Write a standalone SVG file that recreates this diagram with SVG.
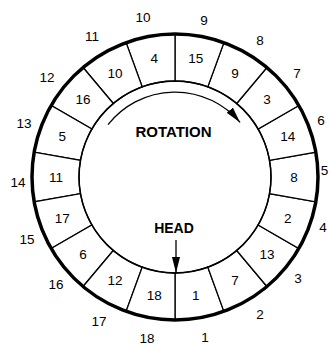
<svg xmlns="http://www.w3.org/2000/svg" width="330" height="345" viewBox="0 0 330 345">
<defs>
<style>
.sec{fill:#fff;stroke:#000;stroke-width:1.3}
.lbl{font-family:"Liberation Sans",Arial,sans-serif;font-size:13.5px;text-anchor:middle;fill:#000}
.pos{font-family:"Liberation Sans",Arial,sans-serif;font-size:13.5px;text-anchor:middle;fill:#000}
.word{font-family:"Liberation Sans",Arial,sans-serif;font-weight:bold;text-anchor:middle;fill:#000}
.conn{fill:none;stroke:#000;stroke-width:1.3}
</style>
<marker id="ah" markerUnits="userSpaceOnUse" markerWidth="17" markerHeight="10" refX="16" refY="4" orient="auto">
<path d="M0,0 L16,4 L0,8 z" fill="#000"/>
</marker>
</defs>
<rect width="330" height="345" fill="#fff"/>
<g id="seg1"><path class="sec" d="M223.91,311.38 A143,143 0 0 1 175,320 L175,273 A96,96 0 0 0 207.83,267.21 Z"/><text class="lbl" x="195.8" y="299.7">1</text></g>
<g id="seg7"><path class="sec" d="M266.92,286.54 A143,143 0 0 1 223.91,311.38 L207.83,267.21 A96,96 0 0 0 236.71,250.54 Z"/><text class="lbl" x="235" y="285.4">7</text></g>
<g id="seg13"><path class="sec" d="M298.84,248.5 A143,143 0 0 1 266.92,286.54 L236.71,250.54 A96,96 0 0 0 258.14,225 Z"/><text class="lbl" x="266.9" y="258.6">13</text></g>
<g id="seg2"><path class="sec" d="M315.83,201.82 A143,143 0 0 1 298.84,248.5 L258.14,225 A96,96 0 0 0 269.54,193.67 Z"/><text class="lbl" x="287.8" y="222.5">2</text></g>
<g id="seg8"><path class="sec" d="M315.83,152.18 A143,143 0 0 1 315.83,201.82 L269.54,193.67 A96,96 0 0 0 269.54,160.33 Z"/><text class="lbl" x="294" y="181.5">8</text></g>
<g id="seg14"><path class="sec" d="M298.84,105.5 A143,143 0 0 1 315.83,152.18 L269.54,160.33 A96,96 0 0 0 258.14,129 Z"/><text class="lbl" x="287.8" y="140.5">14</text></g>
<g id="seg3"><path class="sec" d="M266.92,67.46 A143,143 0 0 1 298.84,105.5 L258.14,129 A96,96 0 0 0 236.71,103.46 Z"/><text class="lbl" x="266.9" y="104.4">3</text></g>
<g id="seg9"><path class="sec" d="M223.91,42.62 A143,143 0 0 1 266.92,67.46 L236.71,103.46 A96,96 0 0 0 207.83,86.79 Z"/><text class="lbl" x="235" y="77.6">9</text></g>
<g id="seg15"><path class="sec" d="M175,34 A143,143 0 0 1 223.91,42.62 L207.83,86.79 A96,96 0 0 0 175,81 Z"/><text class="lbl" x="195.8" y="63.3">15</text></g>
<g id="seg4"><path class="sec" d="M126.09,42.62 A143,143 0 0 1 175,34 L175,81 A96,96 0 0 0 142.17,86.79 Z"/><text class="lbl" x="154.2" y="63.3">4</text></g>
<g id="seg10"><path class="sec" d="M83.08,67.46 A143,143 0 0 1 126.09,42.62 L142.17,86.79 A96,96 0 0 0 113.29,103.46 Z"/><text class="lbl" x="115" y="77.6">10</text></g>
<g id="seg16"><path class="sec" d="M51.16,105.5 A143,143 0 0 1 83.08,67.46 L113.29,103.46 A96,96 0 0 0 91.86,129 Z"/><text class="lbl" x="83.1" y="104.4">16</text></g>
<g id="seg5"><path class="sec" d="M34.17,152.18 A143,143 0 0 1 51.16,105.5 L91.86,129 A96,96 0 0 0 80.46,160.33 Z"/><text class="lbl" x="62.2" y="140.5">5</text></g>
<g id="seg11"><path class="sec" d="M34.17,201.82 A143,143 0 0 1 34.17,152.18 L80.46,160.33 A96,96 0 0 0 80.46,193.67 Z"/><text class="lbl" x="56" y="181.5">11</text></g>
<g id="seg17"><path class="sec" d="M51.16,248.5 A143,143 0 0 1 34.17,201.82 L80.46,193.67 A96,96 0 0 0 91.86,225 Z"/><text class="lbl" x="62.2" y="222.5">17</text></g>
<g id="seg6"><path class="sec" d="M83.08,286.54 A143,143 0 0 1 51.16,248.5 L91.86,225 A96,96 0 0 0 113.29,250.54 Z"/><text class="lbl" x="83.1" y="258.6">6</text></g>
<g id="seg12"><path class="sec" d="M126.09,311.38 A143,143 0 0 1 83.08,286.54 L113.29,250.54 A96,96 0 0 0 142.17,267.21 Z"/><text class="lbl" x="115" y="285.4">12</text></g>
<g id="seg18"><path class="sec" d="M175,320 A143,143 0 0 1 126.09,311.38 L142.17,267.21 A96,96 0 0 0 175,273 Z"/><text class="lbl" x="154.2" y="299.7">18</text></g>
<g id="rim">
<circle cx="175" cy="177" r="143" fill="none" stroke="#000" stroke-width="3.5"/>
<circle cx="175" cy="177" r="96" fill="none" stroke="#000" stroke-width="1.5"/>
</g>
<g id="positions">
<text class="pos" x="205" y="341.5">1</text>
<text class="pos" x="260" y="318.5">2</text>
<text class="pos" x="298" y="282.5">3</text>
<text class="pos" x="323" y="231.5">4</text>
<text class="pos" x="324.5" y="174.5">5</text>
<text class="pos" x="321" y="124.5">6</text>
<text class="pos" x="297" y="77.5">7</text>
<text class="pos" x="260" y="44.5">8</text>
<text class="pos" x="204" y="24.5">9</text>
<text class="pos" x="143" y="21.5">10</text>
<text class="pos" x="92" y="40.5">11</text>
<text class="pos" x="47" y="81.5">12</text>
<text class="pos" x="24" y="127.5">13</text>
<text class="pos" x="18" y="186.5">14</text>
<text class="pos" x="27" y="243.5">15</text>
<text class="pos" x="56" y="288.5">16</text>
<text class="pos" x="99" y="325.5">17</text>
<text class="pos" x="147" y="342.5">18</text>
</g>
<g id="rotation"><text class="word" x="173.5" y="137" font-size="15">ROTATION</text></g>
<g id="head"><text class="word" x="174" y="233" font-size="14">HEAD</text></g>
<g id="connectors">
<path class="conn" d="M108,124.7 A85,85 0 0 1 240.1,122.4" marker-end="url(#ah)"/>
<path class="conn" d="M176,240 L176,273" marker-end="url(#ah)"/>
</g>
</svg>
